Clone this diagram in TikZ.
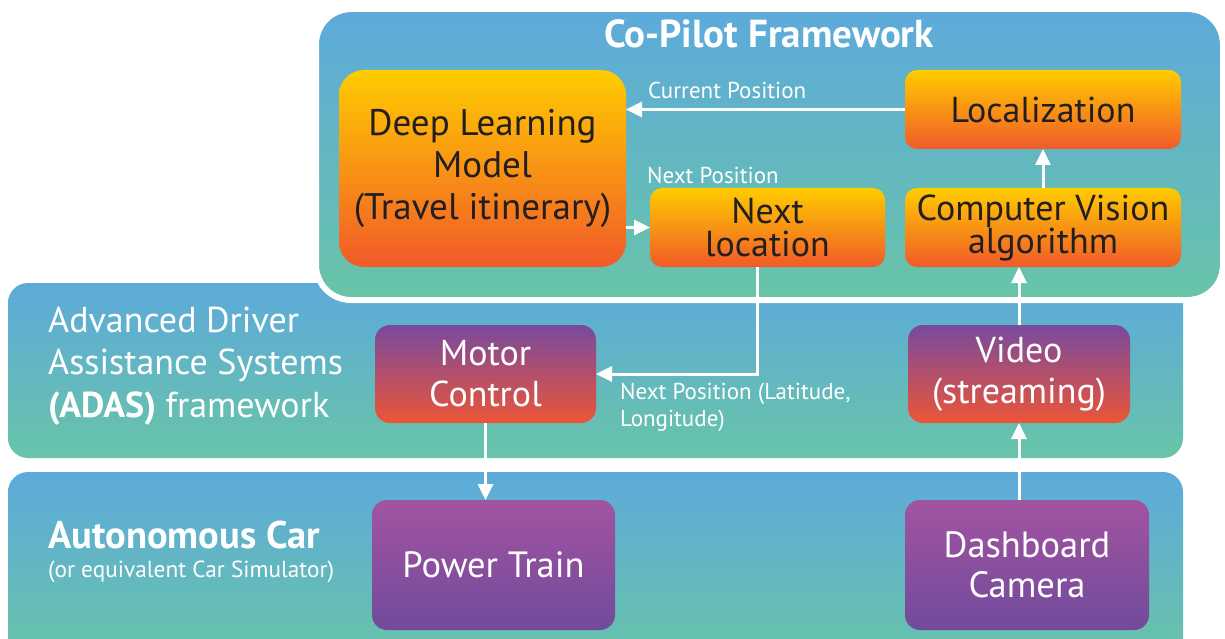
\documentclass[tikz,border=0pt]{standalone}
\usepackage{fontspec}
\setmainfont{PT Sans}
\usetikzlibrary{arrows.meta}

% palette
\definecolor{panelTop}{RGB}{93,170,219}
\definecolor{panelBot}{RGB}{104,196,168}
\definecolor{orTop}{RGB}{255,204,0}
\definecolor{orBot}{RGB}{241,90,41}
\definecolor{mcTop}{RGB}{120,74,158}
\definecolor{mcBot}{RGB}{236,85,55}
\definecolor{ptTop}{RGB}{162,84,160}
\definecolor{ptBot}{RGB}{114,74,156}
\definecolor{inkDark}{RGB}{35,31,32}

\tikzset{
  panel/.style={top color=panelTop, bottom color=panelBot},
  box/.style={inner sep=0pt, outer sep=0pt, align=center},
  orangebox/.style={box, rounded corners=12pt, top color=orTop, bottom color=orBot,
    text=inkDark, font=\fontsize{36}{33}\selectfont},
  redbox/.style={box, rounded corners=15pt, top color=mcTop, bottom color=mcBot,
    text=white, font=\fontsize{36}{41}\selectfont},
  purplebox/.style={box, rounded corners=15pt, top color=ptTop, bottom color=ptBot,
    text=white, font=\fontsize{36.5}{40}\selectfont},
  flow/.style={draw=white, line width=3pt, -{Triangle[length=16pt,width=15pt]}},
  smalllabel/.style={text=white, inner sep=0pt, font=\fontsize{23}{27}\selectfont, align=left},
}

\begin{document}
\begin{tikzpicture}[x=1pt,y=1pt]
\useasboundingbox (0,0) rectangle (1225,-639);
\clip (0,0) rectangle (1225,-639);

% background panels
\shade[panel, rounded corners=20pt] (8,-472) rectangle (1183,-660);
\shade[panel, rounded corners=20pt] (8,-283) rectangle (1183,-458);
\shade[panel, rounded corners=32pt] (319,-12) rectangle (1220,-297);
\draw[white, line width=6pt, rounded corners=35pt] (316,-9) rectangle (1223,-300);

% panel titles
\node[text=white, font=\bfseries\fontsize{39}{40}\selectfont] (cptitle) at (769,-34) {Co-Pilot Framework};
\node[text=white, anchor=west, align=left, inner sep=0pt, font=\fontsize{36}{42.5}\selectfont]
  (adastitle) at (48,-366) {Advanced Driver\\Assistance Systems\\\textbf{(ADAS)} framework};
\node[text=white, anchor=west, inner sep=0pt, font=\bfseries\fontsize{38.5}{40}\selectfont]
  (cartitle) at (48,-535) {Autonomous Car};
\node[text=white, anchor=west, inner sep=0pt, font=\fontsize{23.3}{24}\selectfont]
  (carsub) at (48,-572) {(or equivalent Car Simulator)};

% Co-Pilot blocks
\node[orangebox, rounded corners=25pt, minimum width=287pt, minimum height=197pt,
  font=\fontsize{37}{42}\selectfont] (dlm) at (482.5,-168.5) {Deep Learning\\Model\\(Travel itinerary)};
\node[orangebox, minimum width=276pt, minimum height=79pt] (loc) at (1043,-109.5) {Localization};
\node[orangebox, minimum width=235pt, minimum height=79pt] (nxt) at (767.5,-227.5) {Next\\location};
\node[orangebox, minimum width=276pt, minimum height=79pt] (cv) at (1043,-227.5) {Computer Vision\\algorithm};

% ADAS blocks
\node[redbox, minimum width=221pt, minimum height=98pt] (motor) at (485.5,-374) {Motor\\Control};
\node[redbox, minimum width=222pt, minimum height=98pt] (video) at (1019,-374) {Video\\(streaming)};

% vehicle blocks
\node[purplebox, minimum width=243pt, minimum height=130pt] (power) at (493.5,-565) {Power Train};
\node[purplebox, minimum width=244pt, minimum height=130pt] (dash) at (1027,-565) {Dashboard\\Camera};

% data flow
\draw[flow] (loc.west) -- (loc.west -| dlm.east);
\draw[flow] (nxt.west -| dlm.east) -- (nxt.west);
\coordinate (bend) at (757,-374);
\draw[flow] (nxt.south -| bend) -- (bend) -- (motor.east);
\draw[flow] (motor.south) -- (motor.south |- power.north);
\draw[flow] (dash.north -| video.south) -- (video.south);
\draw[flow] (video.north) -- (video.north |- cv.south);
\draw[flow] (cv.north) -- (loc.south);

% flow labels
\node[smalllabel, anchor=west] (lblcur) at (648,-90) {Current Position};
\node[smalllabel, anchor=west] (lblnext) at (647,-175) {Next Position};
\node[smalllabel, anchor=north west] (lblgps) at (620,-383) {Next Position (Latitude,\\Longitude)};
\end{tikzpicture}
\end{document}
